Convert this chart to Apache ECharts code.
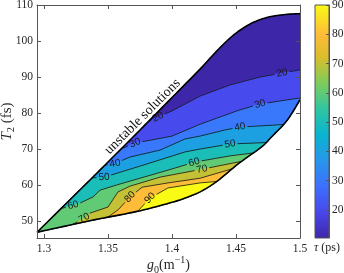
<!DOCTYPE html>
<html><head><meta charset="utf-8">
<script src="https://cdn.jsdelivr.net/npm/echarts@6/dist/echarts.min.js"></script>
<style>html,body{margin:0;padding:0;background:#fff}#c{width:344px;height:273px}</style>
</head><body><div id="c"></div>
<script>
// ---------------- data ----------------
const levels = [20, 30, 40, 50, 60, 70, 80, 90];
const colorMin = 10.44, colorMax = 90;

const upperBoundary = [[1.2945,46.9],[1.3336,60.6],[1.35,66.4],[1.375,75.3],[1.4,84.3],[1.4219,92.2],[1.4349,97.2],[1.4479,101.6],[1.4609,104.7],[1.474,106.5],[1.487,107.3],[1.5,107.6]];
const lowerBoundary = [[1.2945,46.9],[1.3125,48.3],[1.34,50.4],[1.3648,52.1],[1.38,53.3],[1.4,55.2],[1.4102,56.4],[1.4219,58.1],[1.435,61.0],[1.4521,66.0],[1.47,70.6],[1.4781,73.5],[1.49,78.0],[1.5,83.7]];

const contour20 = [[1.381,77.5],[1.389,78.9],[1.4,80.6],[1.4219,84.7],[1.4453,87.8],[1.4688,90.0],[1.4859,91.1],[1.5,92.0]];
const contour30 = [[1.3601,70.0],[1.3711,71.7],[1.3852,72.6],[1.4,73.6],[1.4219,76.9],[1.4523,80.8],[1.4688,82.5],[1.5,84.2]];
const contour40 = [[1.3475,65.5],[1.3555,66.0],[1.3672,67.8],[1.3906,69.7],[1.4102,72.8],[1.4219,73.6],[1.4414,75.3],[1.4531,76.1],[1.4867,76.8]];
const contour50 = [[1.3376,62.0],[1.3469,62.2],[1.357,63.3],[1.3672,64.4],[1.3852,66.4],[1.4102,69.2],[1.4219,70.0],[1.4453,71.4],[1.4734,71.8]];
const contour60 = [[1.3135,53.5],[1.3227,54.4],[1.3281,55.0],[1.3383,56.7],[1.3438,58.6],[1.3594,60.3],[1.3672,61.1],[1.3945,63.9],[1.418,66.4],[1.4453,68.1],[1.4633,68.9]];
const contour70 = [[1.3219,49.0],[1.3313,50.8],[1.3359,52.2],[1.35,53.9],[1.3578,58.1],[1.3672,59.7],[1.3906,62.2],[1.4234,64.4],[1.4545,66.6]];
const contour80 = [[1.35,51.1],[1.3578,53.1],[1.3672,56.7],[1.3766,59.4],[1.3969,60.6],[1.4219,61.9],[1.4469,64.5]];
const contour90 = [[1.3734,52.8],[1.3828,56.4],[1.3969,59.2],[1.4219,60.6],[1.435,61.0]];
const contourLines = [contour20, contour30, contour40, contour50, contour60, contour70, contour80, contour90];

const labels20 = [[1.389,78.9],[1.4859,91.1]];
const labels30 = [[1.3711,71.7],[1.4688,82.5]];
const labels40 = [[1.3555,66.0],[1.4531,76.1]];
const labels50 = [[1.3469,62.2],[1.4453,71.4]];
const labels60 = [[1.3227,54.4],[1.4172,66.4]];
const labels70 = [[1.3313,50.8],[1.4234,64.4]];
const labels80 = [[1.3672,56.7]];
const labels90 = [[1.3828,56.4]];
const contourLabels = [labels20, labels30, labels40, labels50, labels60, labels70, labels80, labels90];

const xTicks = [1.3, 1.35, 1.4, 1.45, 1.5];
const yTicks = [50, 60, 70, 80, 90, 100, 110];
const cbTicks = [20, 30, 40, 50, 60, 70, 80, 90];
const annotationText = 'unstable solutions';
const annotationPos = [1.377, 79.0];

// ---------------- colour map (parula) ----------------
const parulaStops = [[0,'#3E26A8'],[0.111,'#4847EB'],[0.222,'#3E6FFF'],[0.333,'#2796EB'],[0.444,'#08B4D0'],[0.556,'#31C69F'],[0.667,'#80CC59'],[0.778,'#DCBD29'],[0.87,'#FDBB39'],[1,'#F9FB14']];
function hex2rgb(h){return [parseInt(h.slice(1,3),16),parseInt(h.slice(3,5),16),parseInt(h.slice(5,7),16)];}
function parula(t){
  t=Math.max(0,Math.min(1,t));
  for(let i=0;i<parulaStops.length-1;i++){
    const a=parulaStops[i],b=parulaStops[i+1];
    if(t<=b[0]){const f=(t-a[0])/(b[0]-a[0]);const ca=hex2rgb(a[1]),cb=hex2rgb(b[1]);
      return 'rgb('+ca.map((v,j)=>Math.round(v+(cb[j]-v)*f)).join(',')+')';}
  }
  return parulaStops[parulaStops.length-1][1];
}

// ---------------- geometry helpers (pixel space) ----------------
function toPx(api, arr){return arr.map(p=>api.coord(p));}
// Catmull-Rom rendering of a curve through the given pixel points
function smoothPx(p,steps){
  const out=[p[0]];const n=p.length;
  for(let i=0;i<n-1;i++){
    const p0=p[Math.max(0,i-1)],p1=p[i],p2=p[i+1],p3=p[Math.min(n-1,i+2)];
    for(let k=1;k<=steps;k++){const t=k/steps,t2=t*t,t3=t2*t;
      const f=(a,b,c,d)=>0.5*((2*b)+(-a+c)*t+(2*a-5*b+4*c-d)*t2+(-a+3*b-3*c+d)*t3);
      out.push([f(p0[0],p1[0],p2[0],p3[0]),f(p0[1],p1[1],p2[1],p3[1])]);}
  }
  return out;
}
function upperPx(api){return smoothPx(toPx(api,upperBoundary),8);}
function lowerPx(api){return smoothPx(toPx(api,lowerBoundary),8);}
function loopPx(api){const lo=lowerPx(api);const up=upperPx(api);return lo.concat(up.slice(1).reverse());}
function segProject(p,a,b){const dx=b[0]-a[0],dy=b[1]-a[1];const L2=dx*dx+dy*dy;
  let t=L2?((p[0]-a[0])*dx+(p[1]-a[1])*dy)/L2:0;t=Math.max(0,Math.min(1,t));
  return {t:t,d:Math.hypot(p[0]-(a[0]+t*dx),p[1]-(a[1]+t*dy))};}
function locate(p,loop){let best={i:0,t:0,d:Infinity};const n=loop.length;
  for(let i=0;i<n;i++){const r=segProject(p,loop[i],loop[(i+1)%n]);if(r.d<best.d)best={i:i,t:r.t,d:r.d};}
  return best;}
function regionPolygon(cpx,loop){
  const n=loop.length;const A=cpx[0],B=cpx[cpx.length-1];
  const la=locate(A,loop),lb=locate(B,loop);
  const pts=cpx.slice();
  if(!(la.i===lb.i&&la.t<=lb.t)){
    let k=lb.i;pts.push(loop[k]);k=(k-1+n)%n;
    while(k!==la.i){pts.push(loop[k]);k=(k-1+n)%n;}
  }
  return pts;
}
function polyInfo(pts){const s=[0];for(let i=1;i<pts.length;i++)s.push(s[i-1]+Math.hypot(pts[i][0]-pts[i-1][0],pts[i][1]-pts[i-1][1]));return s;}
function pointAt(pts,s,v){
  for(let i=1;i<pts.length;i++){if(v<=s[i]||i===pts.length-1){const L=s[i]-s[i-1];const f=L?(v-s[i-1])/L:0;
    return {p:[pts[i-1][0]+(pts[i][0]-pts[i-1][0])*f,pts[i-1][1]+(pts[i][1]-pts[i-1][1])*f],dx:pts[i][0]-pts[i-1][0],dy:pts[i][1]-pts[i-1][1]};}}
}
function projS(pts,s,p){let best={d:Infinity,v:0};
  for(let i=1;i<pts.length;i++){const r=segProject(p,pts[i-1],pts[i]);if(r.d<best.d)best={d:r.d,v:s[i-1]+r.t*(s[i]-s[i-1])};}
  return best.v;}

// ---------------- chart ----------------
const axisCol='#555', txtCol='#262626', serif='Liberation Serif';
const chart=echarts.init(document.getElementById('c'),null,{renderer:'canvas'});

const option={
  animation:false,
  backgroundColor:'#fff',
  grid:[
    {left:37,top:5,width:263,height:233,containLabel:false,outerBoundsMode:'none'},
    {left:315,top:5,width:14,height:233,containLabel:false,outerBoundsMode:'none'}
  ],
  xAxis:[
    {gridIndex:0,type:'value',min:1.2945,max:1.5,position:'bottom',z:5,
     axisLine:{onZero:false,lineStyle:{color:axisCol,width:1}},
     axisTick:{inside:true,length:4,customValues:xTicks,lineStyle:{color:axisCol}},
     axisLabel:{customValues:xTicks,margin:5,color:txtCol,fontFamily:serif,fontSize:11.5},
     splitLine:{show:false},
     name:'{it|g}{sub|0}{rm|(m}{sup|\u22121}{rm|)}',nameLocation:'middle',nameGap:17,nameMoveOverlap:false,
     nameTextStyle:{color:txtCol,fontFamily:serif,fontSize:14,rich:{
       it:{fontFamily:serif,fontStyle:'italic',fontSize:14,lineHeight:20,color:txtCol},
       rm:{fontFamily:serif,fontSize:14,lineHeight:20,color:txtCol},
       sub:{fontFamily:serif,fontSize:10,lineHeight:12,verticalAlign:'bottom',color:txtCol},
       sup:{fontFamily:serif,fontSize:10,lineHeight:12,verticalAlign:'top',color:txtCol}}}},
    {gridIndex:0,type:'value',min:1.2945,max:1.5,position:'top',z:5,
     axisLine:{onZero:false,lineStyle:{color:axisCol,width:1}},
     axisTick:{inside:true,length:4,customValues:xTicks,lineStyle:{color:axisCol}},
     axisLabel:{show:false},splitLine:{show:false}},
    {gridIndex:1,type:'value',min:0,max:1,show:false}
  ],
  yAxis:[
    {gridIndex:0,type:'value',min:45.3,max:110,position:'left',z:5,
     axisLine:{onZero:false,show:true,lineStyle:{color:axisCol,width:1}},
     axisTick:{show:true,inside:true,length:4,customValues:yTicks,lineStyle:{color:axisCol}},
     axisLabel:{customValues:yTicks,margin:4,color:txtCol,fontFamily:serif,fontSize:11.5},
     splitLine:{show:false},
     name:'{it|T}{sub|2}{rm| (fs)}',nameLocation:'middle',nameGap:20,nameRotate:90,nameMoveOverlap:false,
     nameTextStyle:{color:txtCol,fontFamily:serif,fontSize:15,rich:{
       it:{fontFamily:serif,fontStyle:'italic',fontSize:15,lineHeight:20,color:txtCol},
       rm:{fontFamily:serif,fontSize:15,lineHeight:20,color:txtCol},
       sub:{fontFamily:serif,fontSize:10.5,lineHeight:12,verticalAlign:'bottom',color:txtCol}}}},
    {gridIndex:0,type:'value',min:45.3,max:110,position:'right',z:5,
     axisLine:{onZero:false,show:true,lineStyle:{color:axisCol,width:1}},
     axisTick:{show:true,inside:true,length:4,customValues:yTicks,lineStyle:{color:axisCol}},
     axisLabel:{show:false},splitLine:{show:false}},
    {gridIndex:1,type:'value',min:colorMin,max:colorMax,position:'right',z:5,
     axisLine:{onZero:false,show:true,lineStyle:{color:axisCol,width:1}},
     axisTick:{show:true,inside:true,length:3,customValues:cbTicks,lineStyle:{color:axisCol}},
     axisLabel:{customValues:cbTicks,margin:3,color:txtCol,fontFamily:serif,fontSize:11.5},
     splitLine:{show:false}}
  ],
  graphic:[{type:'text',left:314,top:242,style:{text:'{it|\u03c4} (ps)',fill:txtCol,font:'12px "Liberation Serif"',
    rich:{it:{fontFamily:serif,fontStyle:'italic',fontSize:12,fill:txtCol}}}}],
  series:[
    // filled contour bands
    {type:'custom',xAxisIndex:0,yAxisIndex:0,z:2,silent:true,
     data:[colorMin].concat(levels).map((v,i)=>[i,v]),encode:{x:0,y:1},
     renderItem:function(params,api){
       const k=params.dataIndex-1;const loop=loopPx(api);let pts,val;
       if(k<0){pts=loop;val=colorMin;}else{pts=regionPolygon(toPx(api,contourLines[k]),loop);val=levels[k];}
       const c=parula((val-colorMin)/(colorMax-colorMin));
       return {type:'polygon',shape:{points:pts},style:{fill:c,stroke:c,lineWidth:0.6}};
     }},
    // contour lines with inline labels
    {type:'custom',xAxisIndex:0,yAxisIndex:0,z:3,silent:true,
     data:levels.map((v,i)=>[i,v]),encode:{x:0,y:1},
     renderItem:function(params,api){
       const k=params.dataIndex;const pts=toPx(api,contourLines[k]);const s=polyInfo(pts);const total=s[s.length-1];
       const half=7.5;const children=[];const gaps=[];
       contourLabels[k].forEach(lp=>{
         const v=projS(pts,s,api.coord(lp));gaps.push([v-half,v+half]);
         const q=pointAt(pts,s,v);let dx=q.dx,dy=q.dy;if(dx<0){dx=-dx;dy=-dy;}
         children.push({type:'text',x:q.p[0],y:q.p[1],rotation:Math.atan2(-dy,dx),
           style:{text:String(levels[k]),fill:'#1a1a1a',fontFamily:'Liberation Sans',fontSize:10,align:'center',verticalAlign:'middle'}});
       });
       gaps.sort((a,b)=>a[0]-b[0]);
       let start=0;const pieces=[];
       gaps.forEach(g=>{if(g[0]>start)pieces.push([start,g[0]]);start=Math.max(start,g[1]);});
       if(start<total)pieces.push([start,total]);
       pieces.forEach(pc=>{
         const arr=[pointAt(pts,s,pc[0]).p];
         for(let i=0;i<pts.length;i++){if(s[i]>pc[0]&&s[i]<pc[1])arr.push(pts[i]);}
         arr.push(pointAt(pts,s,pc[1]).p);
         children.unshift({type:'polyline',shape:{points:arr},style:{stroke:'#111',lineWidth:0.8,fill:null}});
       });
       return {type:'group',children:children};
     }},
    // stability boundaries
    {type:'custom',xAxisIndex:0,yAxisIndex:0,z:4,silent:true,
     data:[[0,0],[1,1]],encode:{x:0,y:1},
     renderItem:function(params,api){
       const pts=params.dataIndex===0?upperPx(api):lowerPx(api);
       return {type:'polyline',shape:{points:pts},style:{stroke:'#000',lineWidth:1.6,fill:null,lineJoin:'round'}};
     }},
    // annotation
    {type:'custom',xAxisIndex:0,yAxisIndex:0,z:4,silent:true,
     data:[annotationPos],encode:{x:0,y:1},
     renderItem:function(params,api){
       const p=api.coord([api.value(0),api.value(1)]);
       return {type:'text',x:p[0],y:p[1],rotation:Math.PI/4,
         style:{text:annotationText,fill:'#111',fontFamily:serif,fontSize:14,align:'center',verticalAlign:'middle'}};
     }},
    // colorbar
    {type:'custom',xAxisIndex:2,yAxisIndex:2,z:2,silent:true,
     data:[[0,colorMin]],encode:{x:0,y:1},
     renderItem:function(params,api){
       const a=api.coord([0,colorMin]),b=api.coord([1,colorMax]);
       return {type:'rect',shape:{x:a[0],y:b[1],width:b[0]-a[0],height:a[1]-b[1]},
         style:{fill:new echarts.graphic.LinearGradient(0,1,0,0,parulaStops.map(st=>({offset:st[0],color:st[1]}))),stroke:axisCol,lineWidth:1}};
     }}
  ]
};
chart.setOption(option);
</script></body></html>
